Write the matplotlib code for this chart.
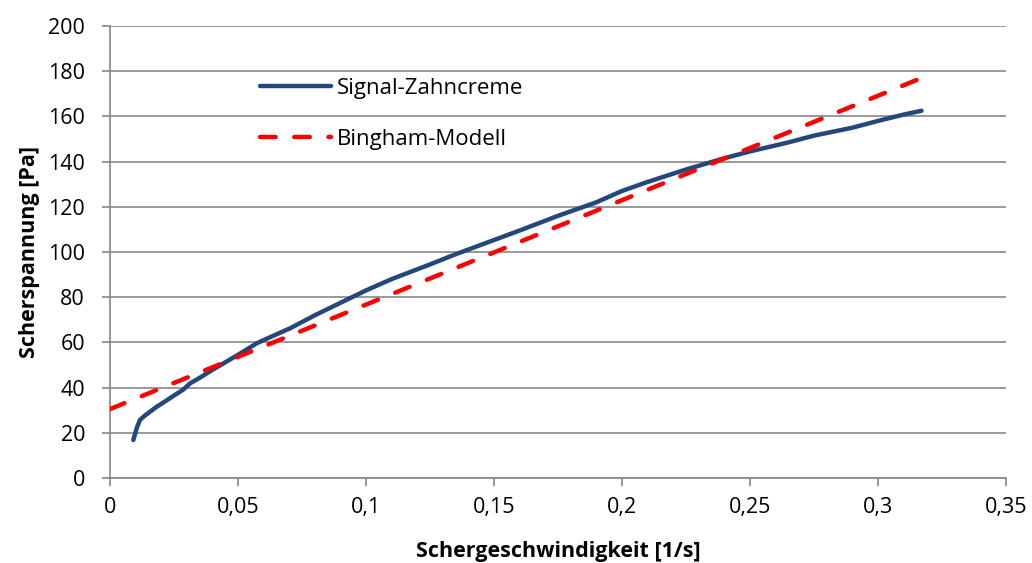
import numpy as np
import matplotlib.pyplot as plt

# Signal-Zahncreme
x_signal = [0.0091, 0.0098, 0.0104, 0.0117, 0.0135, 0.0156, 0.0182, 0.021, 0.025, 0.0285,
            0.0313, 0.035, 0.0395, 0.0443, 0.05, 0.0573, 0.0635, 0.0703, 0.08, 0.09,
            0.1, 0.11, 0.125, 0.135, 0.15, 0.16, 0.175, 0.19, 0.2, 0.21,
            0.225, 0.24, 0.25, 0.265, 0.275, 0.29, 0.3, 0.31, 0.317]
y_signal = [16.8, 19.5, 22.0, 25.7, 27.5, 29.3, 31.5, 33.5, 36.5, 39.0,
            41.9, 44.3, 47.5, 50.7, 54.5, 59.6, 62.8, 66.2, 72.0, 77.5,
            83.0, 88.0, 94.5, 99.0, 105.3, 109.5, 116.0, 122.0, 127.0, 131.0,
            136.5, 141.5, 144.5, 148.5, 151.5, 155.0, 158.0, 160.8, 162.5]

# Bingham-Modell
x_bingham = [0.0, 0.317]
y_bingham = [30.5, 177.0]

x_ticks = [0, 0.05, 0.1, 0.15, 0.2, 0.25, 0.3, 0.35]
x_tick_labels = ['0', '0,05', '0,1', '0,15', '0,2', '0,25', '0,3', '0,35']
y_ticks = list(range(0, 201, 20))

plt.rcParams['font.family'] = ['Open Sans', 'DejaVu Sans']

fig = plt.figure(figsize=(10.32, 5.63), dpi=100)
ax = fig.add_axes([0.1066, 0.151, 0.8682, 0.8028])

grey = '#868686'
ax.plot(x_signal, y_signal, color='#24487B', lw=3.2, solid_capstyle='round',
        solid_joinstyle='round', label='Signal-Zahncreme', zorder=3)
ax.plot(x_bingham, y_bingham, color='#FF0000', lw=3.2, dashes=(3.5, 4.2),
        dash_capstyle='round', label='Bingham-Modell', zorder=4)

ax.set_xlim(0, 0.35)
ax.set_ylim(0, 200)
ax.set_xticks(x_ticks)
ax.set_xticklabels(x_tick_labels)
ax.set_yticks(y_ticks)
ax.yaxis.grid(True, color=grey, lw=1.2)
ax.set_axisbelow(True)
for s in ['top', 'right']:
    ax.spines[s].set_visible(False)
for s in ['left', 'bottom']:
    ax.spines[s].set_color(grey)
    ax.spines[s].set_linewidth(1.2)
ax.tick_params(axis='both', colors=grey, labelcolor='black', labelsize=15.5,
               direction='out', length=6, width=1.2)
ax.tick_params(axis='x', pad=8)
ax.tick_params(axis='y', pad=12)

ax.set_xlabel('Schergeschwindigkeit [1/s]', fontsize=15.5, fontweight='bold', labelpad=16)
ax.set_ylabel('Scherspannung [Pa]', fontsize=15.5, fontweight='bold', labelpad=6)

leg = ax.legend(loc='upper left', bbox_to_anchor=(0.145, 0.93), frameon=False,
                fontsize=16, handlelength=3.2, labelspacing=1.35, handletextpad=0.25)

fig.savefig('out.png', dpi=100)
